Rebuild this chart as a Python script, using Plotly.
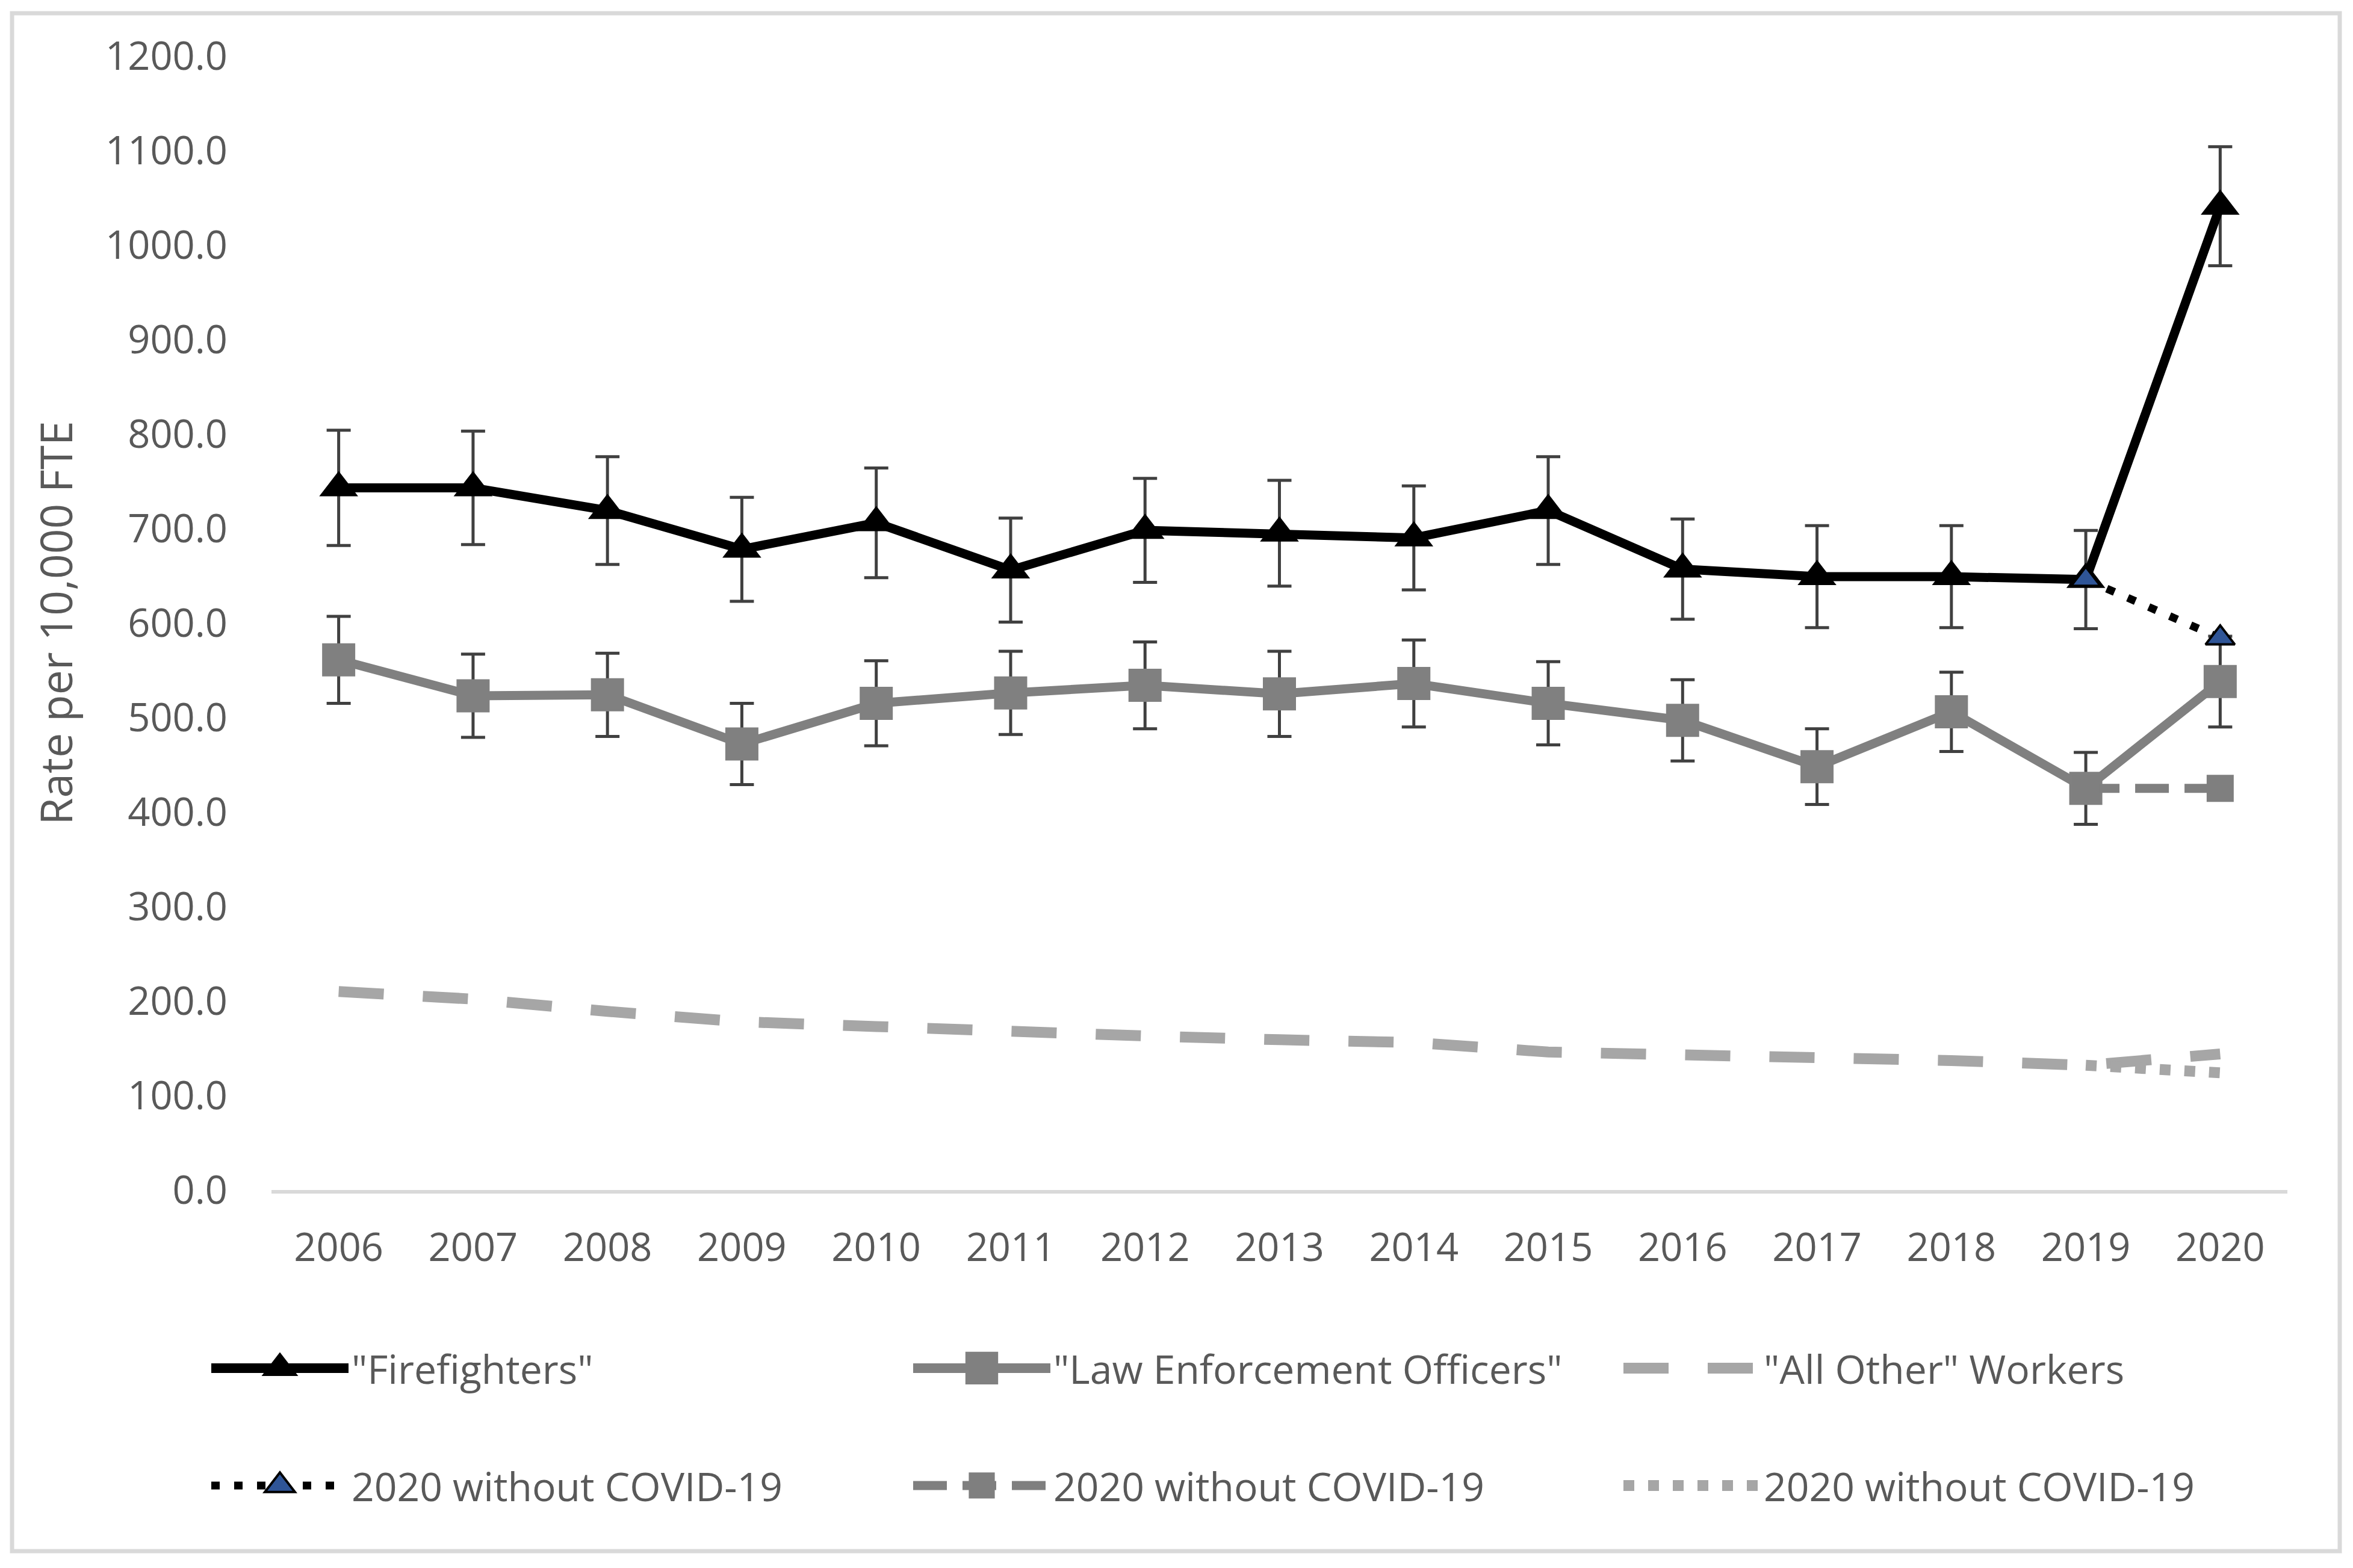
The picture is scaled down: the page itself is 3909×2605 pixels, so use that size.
import plotly.graph_objects as go

years = ["2006", "2007", "2008", "2009", "2010", "2011", "2012", "2013",
         "2014", "2015", "2016", "2017", "2018", "2019", "2020"]
ff = [743, 743, 719, 678, 706, 656, 698, 695, 690, 719, 657, 649, 649, 646, 1041]
ff_err = [61, 60, 57, 55, 58, 55, 55, 56, 55, 57, 53, 54, 54, 52, 63]
leo = [561, 523, 524, 472, 515, 526, 534, 525, 536, 515, 497, 448, 506, 425, 538]
leo_err = [46, 44, 44, 43, 45, 44, 46, 45, 46, 44, 43, 40, 42, 38, 48]
ao = [210, 202, 189, 178, 173, 167, 163, 159, 156, 146, 144, 140, 137, 132, 144]

wo_years = ["2019", "2020"]
ff_wo = [646, 584]
leo_wo = [425, 425]
ao_wo = [132, 124]

names = ['"Firefighters"', '"Law Enforcement Officers"', '"All Other" Workers',
         "2020 without COVID-19", "2020 without COVID-19", "2020 without COVID-19"]

FONT = "Open Sans"
TXT = "#595959"
W, H = 3909, 2605
L, R, T, B = 451, 109, 93, 628

fig = go.Figure()

fig.add_trace(go.Scatter(
    x=years, y=ao, name=names[2], mode="lines", legend="legend3",
    line=dict(color="#A6A6A6", width=18, dash="75px,65px"),
))
fig.add_trace(go.Scatter(
    x=years, y=leo, name=names[1], mode="lines+markers", legend="legend2",
    line=dict(color="#808080", width=15),
    marker=dict(symbol="square", size=55, color="#808080"),
    error_y=dict(type="data", array=leo_err, visible=True, color="#404040",
                 thickness=5, width=20),
))
fig.add_trace(go.Scatter(
    x=years, y=ff, name=names[0], mode="lines+markers", legend="legend",
    line=dict(color="#000000", width=15),
    marker=dict(symbol="triangle-up", size=56, color="#000000"),
    error_y=dict(type="data", array=ff_err, visible=True, color="#404040",
                 thickness=5, width=20),
))
fig.add_trace(go.Scatter(
    x=wo_years, y=ff_wo, name=names[3], mode="lines+markers", legend="legend4",
    line=dict(color="#000000", width=13, dash="14px,24px"),
    marker=dict(symbol="triangle-up", size=42, color="#2F5597",
                line=dict(color="#000000", width=4)),
))
fig.add_trace(go.Scatter(
    x=wo_years, y=leo_wo, name=names[4], mode="lines+markers", legend="legend5",
    line=dict(color="#7F7F7F", width=15, dash="56px,26px"),
    marker=dict(symbol="square", size=45, color="#7F7F7F"),
))
fig.add_trace(go.Scatter(
    x=wo_years, y=ao_wo, name=names[5], mode="lines", legend="legend6",
    line=dict(color="#A6A6A6", width=18, dash="18px,23px"),
))

legend_common = dict(
    orientation="h", xref="container", yref="container",
    xanchor="left", yanchor="middle",
    itemwidth=228,
    font=dict(family=FONT, size=66, color=TXT),
    bgcolor="rgba(0,0,0,0)",
)
col_x = [346, 1512, 2692]
row_y = [2273, 2468]
legends = {}
k = 0
for r in row_y:
    for c in col_x:
        key = "legend" if k == 0 else "legend%d" % (k + 1)
        legends[key] = dict(x=c / W, y=1 - r / H, **legend_common)
        k += 1

fig.update_layout(
    width=W, height=H,
    margin=dict(l=L, r=R, t=T, b=B, autoexpand=False),
    paper_bgcolor="white", plot_bgcolor="white",
    font=dict(family=FONT, size=65, color=TXT),
    showlegend=True,
    xaxis=dict(
        type="category", range=[-0.5, 14.5],
        showline=True, linecolor="#D9D9D9", linewidth=6,
        showgrid=False, zeroline=False, ticks="",
        tickfont=dict(family=FONT, size=65, color=TXT),
        ticklabelstandoff=34,
    ),
    yaxis=dict(
        range=[0, 1200], dtick=100, tick0=0, tickformat=".1f",
        showline=False, showgrid=False, zeroline=False, ticks="",
        tickfont=dict(family=FONT, size=65, color=TXT),
        ticklabelstandoff=72,
        title=dict(text="Rate per 10,000 FTE",
                   font=dict(family=FONT, size=73, color=TXT), standoff=30),
    ),
    shapes=[dict(
        type="rect", xref="paper", yref="paper",
        x0=(20 - L) / (W - L - R), x1=(3887 - L) / (W - L - R),
        y0=(H - B - 2577) / (H - T - B), y1=(H - B - 22) / (H - T - B),
        line=dict(color="#D9D9D9", width=7), fillcolor="rgba(0,0,0,0)",
        layer="below",
    )],
    **legends,
)

# Remove the default page margin, and enlarge legend glyphs
# (plotly caps legend marker size / line width) to the reference's size.
post = """
document.body.style.margin = '0';
var gd = document.getElementById('{plot_id}');
function bigLegend(){
  [['legend', 3.3, 16], ['legend2', 3.4, 16], ['legend3', 3.3, 18],
   ['legend4', 2.7, 13], ['legend5', 2.7, 15], ['legend6', 2.7, 18]].forEach(function(cfg){
    gd.querySelectorAll('g.' + cfg[0] + ' path.scatterpts').forEach(function(p){
      if(!p.getAttribute('data-big')){
        var t = p.getAttribute('transform') || '';
        p.setAttribute('transform', t + ' scale(' + cfg[1] + ')');
        p.style.vectorEffect = 'non-scaling-stroke';
        p.setAttribute('data-big', '1');
      }
    });
    gd.querySelectorAll('g.' + cfg[0] + ' path.js-line').forEach(function(p){
      p.style.strokeWidth = cfg[2] + 'px';
    });
  });
}
bigLegend();
gd.on('plotly_afterplot', bigLegend);
"""

fig.write_html("out.html", post_script=post, config={"displayModeBar": False})
